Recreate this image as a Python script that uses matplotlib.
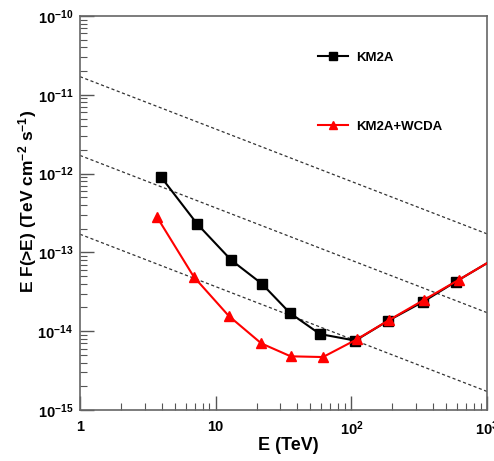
import numpy as np
import matplotlib
matplotlib.use('Agg')
import matplotlib.pyplot as plt

plt.rcParams['font.family'] = ['Liberation Sans', 'DejaVu Sans']
plt.rcParams['font.weight'] = 'bold'
plt.rcParams['mathtext.fontset'] = 'custom'
plt.rcParams['mathtext.rm'] = 'Liberation Sans:bold'
plt.rcParams['mathtext.default'] = 'rm'

# KM2A sensitivity (last entry only continues the line to the frame edge)
km2a_E = [3.95, 7.3, 13.0, 21.9, 35.3, 58.7, 107, 187, 339, 590, 1000]
km2a_flux = [9.1e-13, 2.3e-13, 8.0e-14, 4.0e-14, 1.7e-14, 9.2e-15,
             7.6e-15, 1.36e-14, 2.37e-14, 4.26e-14, 7.3e-14]

# KM2A+WCDA sensitivity
comb_E = [3.7, 6.9, 12.5, 21.7, 35.7, 61.8, 110, 189, 343, 621, 1000]
comb_flux = [2.8e-13, 4.9e-14, 1.56e-14, 7.0e-15, 4.8e-15, 4.7e-15,
             7.9e-15, 1.38e-14, 2.5e-14, 4.5e-14, 7.3e-14]

# Crab reference lines (1, 0.1, 0.01 Crab)
crab_E = [1, 1000]
crab_1 = [1.7e-11, 1.72e-13]
crab_01 = [1.7e-12, 1.72e-14]
crab_001 = [1.7e-13, 1.72e-15]

fig = plt.figure(figsize=(4.94, 4.61), dpi=100)
ax = fig.add_axes([80 / 494, 51 / 461, 407 / 494, 394 / 461])

for c in (crab_1, crab_01, crab_001):
    ax.plot(crab_E, c, color='#333333', lw=0.9, ls=(0, (2.5, 2)))

n_k = len(km2a_E) - 1
n_c = len(comb_E) - 1
ax.plot(km2a_E, km2a_flux, color='black', lw=1.5, marker='s', ms=7,
        markevery=list(range(n_k)), label='KM2A', zorder=3)
ax.plot(comb_E, comb_flux, color='red', lw=1.5, marker='^', ms=7,
        markevery=list(range(n_c)), label='KM2A+WCDA', zorder=4)

ax.set_xscale('log')
ax.set_yscale('log')
ax.set_xlim(1, 1000)
ax.set_ylim(1e-15, 1e-10)

ax.set_xticks([1, 10, 100, 1000])
ax.set_xticklabels(['1', '10', r'$10^{2}$', r'$10^{3}$'])
ax.set_yticks([1e-15, 1e-14, 1e-13, 1e-12, 1e-11, 1e-10])
ax.set_yticklabels([r'$10^{-15}$', r'$10^{-14}$', r'$10^{-13}$',
                    r'$10^{-12}$', r'$10^{-11}$', r'$10^{-10}$'])

ax.tick_params(which='both', direction='in', top=False, right=False,
               color='#555555', labelsize=10.5)
ax.tick_params(which='major', length=10, width=1)
ax.tick_params(which='minor', length=5, width=0.8)
ax.tick_params(axis='x', which='major', pad=7)
ax.tick_params(axis='y', which='major', pad=5)
for s in ax.spines.values():
    s.set_color('#666666')
    s.set_linewidth(1.2)

ax.set_xlabel('E (TeV)', fontsize=13, fontweight='bold')
ax.xaxis.set_label_coords(0.511, -0.068)
ax.set_ylabel(r'E F(>E) (TeV cm$^{-2}$ s$^{-1}$)', fontsize=12.5,
              fontweight='bold')
ax.yaxis.set_label_coords(-0.1, 0.53)

ax.legend(loc='center left', bbox_to_anchor=(0.585, 0.806), frameon=False,
          fontsize=9.5, handlelength=2.3, labelspacing=4.3, borderpad=0,
          borderaxespad=0, handletextpad=0.6, markerscale=0.85)

fig.savefig('out.png', dpi=100)
